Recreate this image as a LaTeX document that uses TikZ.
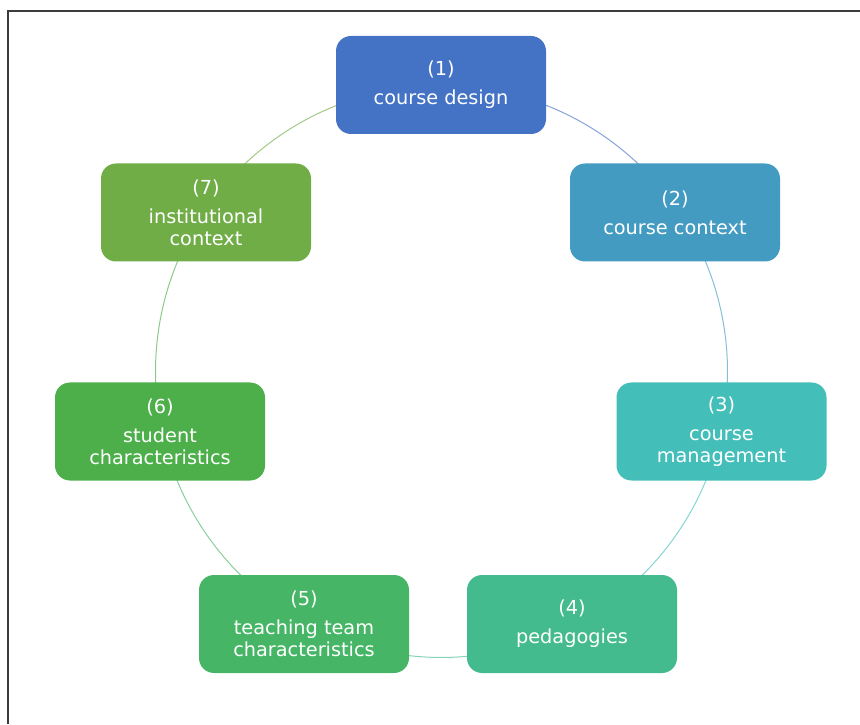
\documentclass[tikz,border=0pt]{standalone}
\usepackage{fontspec}
\setmainfont{DejaVu Sans}
\usetikzlibrary{backgrounds}
\definecolor{cA}{HTML}{4472C4}
\definecolor{cB}{HTML}{439BC1}
\definecolor{cC}{HTML}{44BEB9}
\definecolor{cD}{HTML}{44BB8E}
\definecolor{cE}{HTML}{46B666}
\definecolor{cF}{HTML}{4CAF4A}
\definecolor{cG}{HTML}{70AD47}
\definecolor{framegray}{HTML}{3C3C3C}
\tikzset{
  stagebox/.style={rectangle, rounded corners=15pt, minimum width=210pt, minimum height=98pt,
    inner sep=0pt, text=white, align=center, draw=none,
    font=\fontsize{19.3}{22}\selectfont},
  cyclearc/.style={line width=1pt}
}
\begin{document}
\begin{tikzpicture}[x=1pt,y=1pt]
\useasboundingbox (0,0) rectangle (860,724);
\draw[framegray, line width=1.8pt] (8,0) -- (8,713) -- (860,713);
\node[stagebox, fill=cA] (n1) at (441,639) {(1)\\[7pt]course design};
\node[stagebox, fill=cB] (n2) at (675,511.5) {(2)\\[7pt]course context};
\node[stagebox, fill=cC] (n3) at (721.5,292.5) {(3)\\[7pt]course\\management};
\node[stagebox, fill=cD] (n4) at (572,100) {(4)\\[7pt]pedagogies};
\node[stagebox, fill=cE] (n5) at (304,100) {(5)\\[7pt]teaching team\\characteristics};
\node[stagebox, fill=cF] (n6) at (160,292.5) {(6)\\[7pt]student\\characteristics};
\node[stagebox, fill=cG] (n7) at (206,511.5) {(7)\\[7pt]institutional\\context};
\coordinate (ctr) at (441.5,352.5);
\begin{scope}[on background layer]
\draw[cyclearc, cA!65!white] (ctr) ++(90:286) arc[start angle=90, end angle=34.3, radius=286];
\draw[cyclearc, cB!65!white] (ctr) ++(34.3:286) arc[start angle=34.3, end angle=-12.1, radius=286];
\draw[cyclearc, cC!65!white] (ctr) ++(-12.1:286) arc[start angle=-12.1, end angle=-62.7, radius=286];
\draw[cyclearc, cD!65!white] (ctr) ++(-62.7:286) arc[start angle=-62.7, end angle=-117.3, radius=286];
\draw[cyclearc, cE!65!white] (ctr) ++(-117.3:286) arc[start angle=-117.3, end angle=-167.9, radius=286];
\draw[cyclearc, cF!65!white] (ctr) ++(192.1:286) arc[start angle=192.1, end angle=145.7, radius=286];
\draw[cyclearc, cG!65!white] (ctr) ++(145.7:286) arc[start angle=145.7, end angle=90, radius=286];
\end{scope}
\end{tikzpicture}
\end{document}
